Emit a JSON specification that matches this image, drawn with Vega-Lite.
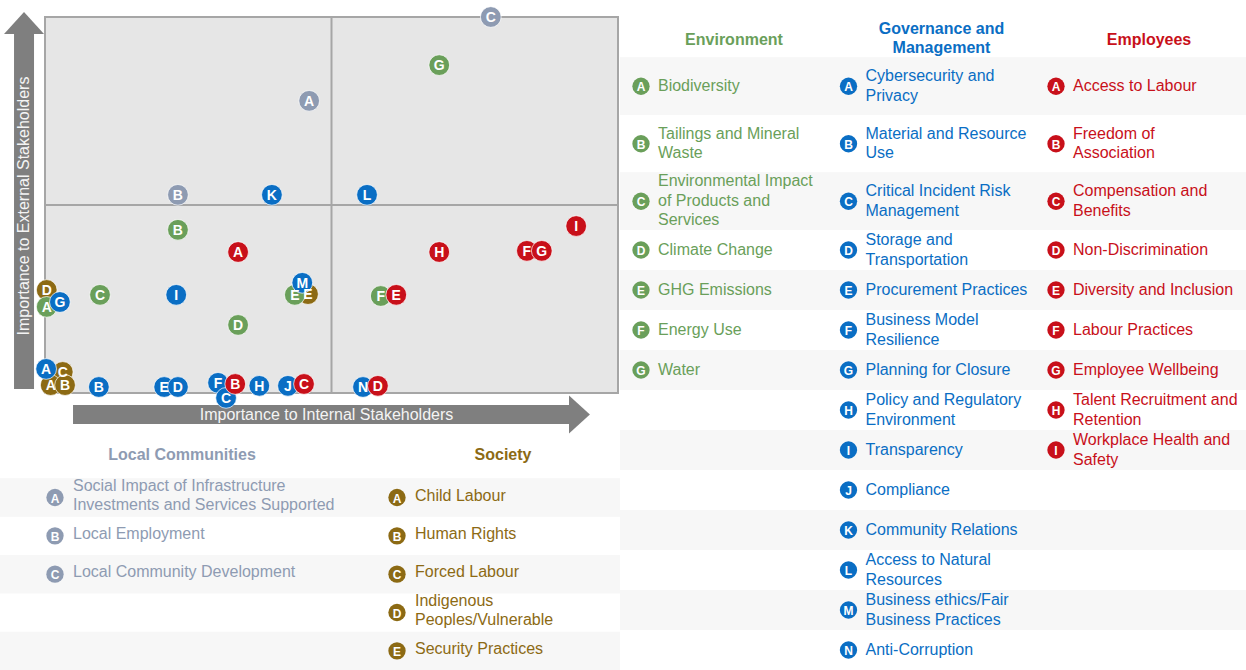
{
  "$schema": "https://vega.github.io/schema/vega-lite/v6.json",
  "padding": 0,
  "background": "white",
  "spacing": 0,
  "config": {
    "view": {"stroke": null},
    "font": "Liberation Sans",
    "concat": {"spacing": 0}
  },
  "datasets": {
    "points": [
      {"cat": "Society", "letter": "C", "x": 0.31, "y": 0.56},
      {"cat": "Society", "letter": "A", "x": 0.10, "y": 0.21},
      {"cat": "Society", "letter": "B", "x": 0.35, "y": 0.21},
      {"cat": "Society", "letter": "D", "x": 0.03, "y": 2.74},
      {"cat": "Society", "letter": "E", "x": 4.59, "y": 2.63},
      {"cat": "Local Communities", "letter": "A", "x": 4.61, "y": 7.77},
      {"cat": "Local Communities", "letter": "B", "x": 2.32, "y": 5.27},
      {"cat": "Local Communities", "letter": "C", "x": 7.78, "y": 10.0},
      {"cat": "Environment", "letter": "A", "x": 0.03, "y": 2.29},
      {"cat": "Environment", "letter": "B", "x": 2.32, "y": 4.34},
      {"cat": "Environment", "letter": "C", "x": 0.96, "y": 2.61},
      {"cat": "Environment", "letter": "D", "x": 3.37, "y": 1.81},
      {"cat": "Environment", "letter": "E", "x": 4.36, "y": 2.61},
      {"cat": "Environment", "letter": "F", "x": 5.86, "y": 2.58},
      {"cat": "Environment", "letter": "G", "x": 6.88, "y": 8.72},
      {"cat": "Governance and Management", "letter": "A", "x": 0.02, "y": 0.64},
      {"cat": "Governance and Management", "letter": "B", "x": 0.94, "y": 0.16},
      {"cat": "Governance and Management", "letter": "E", "x": 2.08, "y": 0.16},
      {"cat": "Governance and Management", "letter": "D", "x": 2.32, "y": 0.16},
      {"cat": "Governance and Management", "letter": "F", "x": 3.02, "y": 0.27},
      {"cat": "Governance and Management", "letter": "C", "x": 3.16, "y": -0.13},
      {"cat": "Governance and Management", "letter": "G", "x": 0.26, "y": 2.42},
      {"cat": "Governance and Management", "letter": "H", "x": 3.74, "y": 0.19},
      {"cat": "Governance and Management", "letter": "I", "x": 2.29, "y": 2.61},
      {"cat": "Governance and Management", "letter": "J", "x": 4.24, "y": 0.19},
      {"cat": "Governance and Management", "letter": "K", "x": 3.96, "y": 5.27},
      {"cat": "Governance and Management", "letter": "L", "x": 5.62, "y": 5.27},
      {"cat": "Governance and Management", "letter": "M", "x": 4.49, "y": 2.93},
      {"cat": "Governance and Management", "letter": "N", "x": 5.55, "y": 0.16},
      {"cat": "Employees", "letter": "A", "x": 3.37, "y": 3.75},
      {"cat": "Employees", "letter": "B", "x": 3.32, "y": 0.24},
      {"cat": "Employees", "letter": "C", "x": 4.52, "y": 0.24},
      {"cat": "Employees", "letter": "D", "x": 5.81, "y": 0.19},
      {"cat": "Employees", "letter": "E", "x": 6.13, "y": 2.61},
      {"cat": "Employees", "letter": "F", "x": 8.41, "y": 3.78},
      {"cat": "Employees", "letter": "G", "x": 8.67, "y": 3.78},
      {"cat": "Employees", "letter": "H", "x": 6.88, "y": 3.75},
      {"cat": "Employees", "letter": "I", "x": 9.27, "y": 4.44}
    ],
    "items": [
      {"cat": "Environment", "letter": "A", "row": 1, "label": "Biodiversity"},
      {"cat": "Environment", "letter": "B", "row": 2, "label": "Tailings and Mineral\nWaste"},
      {"cat": "Environment", "letter": "C", "row": 3, "label": "Environmental Impact\nof Products and\nServices"},
      {"cat": "Environment", "letter": "D", "row": 4, "label": "Climate Change"},
      {"cat": "Environment", "letter": "E", "row": 5, "label": "GHG Emissions"},
      {"cat": "Environment", "letter": "F", "row": 6, "label": "Energy Use"},
      {"cat": "Environment", "letter": "G", "row": 7, "label": "Water"},
      {"cat": "Governance and Management", "letter": "A", "row": 1, "label": "Cybersecurity and\nPrivacy"},
      {"cat": "Governance and Management", "letter": "B", "row": 2, "label": "Material and Resource\nUse"},
      {"cat": "Governance and Management", "letter": "C", "row": 3, "label": "Critical Incident Risk\nManagement"},
      {"cat": "Governance and Management", "letter": "D", "row": 4, "label": "Storage and\nTransportation"},
      {"cat": "Governance and Management", "letter": "E", "row": 5, "label": "Procurement Practices"},
      {"cat": "Governance and Management", "letter": "F", "row": 6, "label": "Business Model\nResilience"},
      {"cat": "Governance and Management", "letter": "G", "row": 7, "label": "Planning for Closure"},
      {"cat": "Governance and Management", "letter": "H", "row": 8, "label": "Policy and Regulatory\nEnvironment"},
      {"cat": "Governance and Management", "letter": "I", "row": 9, "label": "Transparency"},
      {"cat": "Governance and Management", "letter": "J", "row": 10, "label": "Compliance"},
      {"cat": "Governance and Management", "letter": "K", "row": 11, "label": "Community Relations"},
      {"cat": "Governance and Management", "letter": "L", "row": 12, "label": "Access to Natural\nResources"},
      {"cat": "Governance and Management", "letter": "M", "row": 13, "label": "Business ethics/Fair\nBusiness Practices"},
      {"cat": "Governance and Management", "letter": "N", "row": 14, "label": "Anti-Corruption"},
      {"cat": "Employees", "letter": "A", "row": 1, "label": "Access to Labour"},
      {"cat": "Employees", "letter": "B", "row": 2, "label": "Freedom of\nAssociation"},
      {"cat": "Employees", "letter": "C", "row": 3, "label": "Compensation and\nBenefits"},
      {"cat": "Employees", "letter": "D", "row": 4, "label": "Non-Discrimination"},
      {"cat": "Employees", "letter": "E", "row": 5, "label": "Diversity and Inclusion"},
      {"cat": "Employees", "letter": "F", "row": 6, "label": "Labour Practices"},
      {"cat": "Employees", "letter": "G", "row": 7, "label": "Employee Wellbeing"},
      {"cat": "Employees", "letter": "H", "row": 8, "label": "Talent Recruitment and\nRetention"},
      {"cat": "Employees", "letter": "I", "row": 9, "label": "Workplace Health and\nSafety"},
      {"cat": "Local Communities", "letter": "A", "row": 1, "label": "Social Impact of Infrastructure\nInvestments and Services Supported"},
      {"cat": "Local Communities", "letter": "B", "row": 2, "label": "Local Employment"},
      {"cat": "Local Communities", "letter": "C", "row": 3, "label": "Local Community Development"},
      {"cat": "Society", "letter": "A", "row": 1, "label": "Child Labour"},
      {"cat": "Society", "letter": "B", "row": 2, "label": "Human Rights"},
      {"cat": "Society", "letter": "C", "row": 3, "label": "Forced Labour"},
      {"cat": "Society", "letter": "D", "row": 4, "label": "Indigenous\nPeoples/Vulnerable"},
      {"cat": "Society", "letter": "E", "row": 5, "label": "Security Practices"}
    ],
    "headers": [
      {"cat": "Environment", "label": "Environment", "row": 0},
      {"cat": "Governance and Management", "label": "Governance and\nManagement", "row": 0},
      {"cat": "Employees", "label": "Employees", "row": 0},
      {"cat": "Local Communities", "label": "Local Communities", "row": 0},
      {"cat": "Society", "label": "Society", "row": 0}
    ]
  },
  "hconcat": [
    {
      "spacing": 0,
      "vconcat": [
        {
          "width": 620,
          "height": 440,
          "data": {"name": "points"},
          "layer": [
            {
              "data": {"values": [{}]},
              "mark": {"type": "rect", "fill": "#e6e6e6", "stroke": "#a6a6a6", "strokeWidth": 2},
              "encoding": {
                "x": {"datum": 0, "type": "quantitative", "axis": null, "scale": {"domain": [-0.7853, 10.0349], "nice": false, "zero": false}},
                "x2": {"datum": 10},
                "y": {"datum": 0, "type": "quantitative", "axis": null, "scale": {"domain": [-1.25, 10.452], "nice": false, "zero": false}},
                "y2": {"datum": 10}
              }
            },
            {
              "data": {"values": [{}]},
              "mark": {"type": "rule", "stroke": "#a6a6a6", "strokeWidth": 2},
              "encoding": {
                "x": {"datum": 5, "type": "quantitative"},
                "y": {"datum": 0, "type": "quantitative"},
                "y2": {"datum": 10}
              }
            },
            {
              "data": {"values": [{}]},
              "mark": {"type": "rule", "stroke": "#a6a6a6", "strokeWidth": 2},
              "encoding": {
                "y": {"datum": 5, "type": "quantitative"},
                "x": {"datum": 0, "type": "quantitative"},
                "x2": {"datum": 10}
              }
            },
            {
              "data": {"values": [{}]},
              "mark": {"type": "rule", "stroke": "#7f7f7f", "strokeWidth": 19},
              "encoding": {
                "x": {"datum": 0.489, "type": "quantitative"},
                "x2": {"datum": 9.16},
                "y": {"datum": -0.572, "type": "quantitative"}
              }
            },
            {
              "data": {"values": [{}]},
              "mark": {"type": "point", "filled": true, "opacity": 1, "color": "#7f7f7f", "strokeWidth": 0, "shape": "M0,-1L1.1,0L0,1Z", "size": 1444},
              "encoding": {
                "x": {"datum": 9.145, "type": "quantitative"},
                "y": {"datum": -0.572, "type": "quantitative"}
              }
            },
            {
              "data": {"values": [{}]},
              "mark": {"type": "rule", "stroke": "#7f7f7f", "strokeWidth": 20},
              "encoding": {
                "x": {"datum": -0.366, "type": "quantitative"},
                "y": {"datum": 0.106, "type": "quantitative"},
                "y2": {"datum": 9.56}
              }
            },
            {
              "data": {"values": [{}]},
              "mark": {"type": "point", "filled": true, "opacity": 1, "color": "#7f7f7f", "strokeWidth": 0, "shape": "M-1,0L0,-1.1L1,0Z", "size": 1600},
              "encoding": {
                "x": {"datum": -0.366, "type": "quantitative"},
                "y": {"datum": 9.548, "type": "quantitative"}
              }
            },
            {
              "data": {"values": [{"t": "Importance to Internal Stakeholders"}]},
              "mark": {"type": "text", "color": "#f4f4f4", "fontSize": 16, "align": "center", "baseline": "middle"},
              "encoding": {
                "x": {"datum": 4.913, "type": "quantitative"},
                "y": {"datum": -0.572, "type": "quantitative"},
                "text": {"field": "t"}
              }
            },
            {
              "data": {"values": [{"t": "Importance to External Stakeholders"}]},
              "mark": {"type": "text", "color": "#f4f4f4", "fontSize": 16, "align": "center", "baseline": "middle", "angle": 270},
              "encoding": {
                "x": {"datum": -0.366, "type": "quantitative"},
                "y": {"datum": 4.973, "type": "quantitative"},
                "text": {"field": "t"}
              }
            },
            {
              "mark": {"type": "point", "filled": true, "shape": "circle", "size": 430, "opacity": 1, "stroke": "white", "strokeWidth": 1, "strokeOpacity": 0.7},
              "encoding": {
                "x": {"field": "x", "type": "quantitative"},
                "y": {"field": "y", "type": "quantitative"},
                "color": {"field": "cat", "type": "nominal", "legend": null,
                  "scale": {"domain": ["Local Communities", "Environment", "Governance and Management", "Employees", "Society"],
                            "range": ["#8e9bb2", "#6a9f5a", "#0a6ec4", "#c8101a", "#8c6a14"]}}
              }
            },
            {
              "mark": {"type": "text", "color": "white", "fontSize": 14, "fontWeight": "bold", "align": "center", "baseline": "middle", "dy": 1},
              "encoding": {
                "x": {"field": "x", "type": "quantitative"},
                "y": {"field": "y", "type": "quantitative"},
                "text": {"field": "letter"}
              }
            }
          ]
        },
        {
          "width": 620,
          "height": 230,
          "data": {"name": "items"},
          "transform": [
            {"filter": {"field": "cat", "oneOf": ["Local Communities", "Society"]}},
            {"calculate": "length(split(datum.label, '\\n'))", "as": "nlines"}
          ],
          "layer": [
            {
              "transform": [{"filter": "datum.row % 2 == 1"}],
              "mark": {"type": "rect", "color": "#f7f7f7"},
              "encoding": {
                "y": {"field": "row", "type": "ordinal", "axis": null, "scale": {"domain": [0, 1, 2, 3, 4, 5], "paddingInner": 0, "paddingOuter": 0}}
              }
            },
            {
              "mark": {"type": "point", "filled": true, "shape": "circle", "size": 300, "opacity": 1},
              "encoding": {
                "x": {"field": "cat", "type": "nominal", "axis": null, "scale": {"type": "point", "domain": ["Local Communities", "Society"], "padding": 0.4064, "align": 0.1978}},
                "y": {"field": "row", "type": "ordinal"},
                "color": {"field": "cat", "type": "nominal", "legend": null,
                  "scale": {"domain": ["Local Communities", "Environment", "Governance and Management", "Employees", "Society"],
                            "range": ["#8e9bb2", "#6a9f5a", "#0a6ec4", "#c8101a", "#8c6a14"]}}
              }
            },
            {
              "mark": {"type": "text", "color": "white", "fontSize": 12, "fontWeight": "bold", "align": "center", "baseline": "middle", "dy": 1},
              "encoding": {
                "x": {"field": "cat", "type": "nominal"},
                "y": {"field": "row", "type": "ordinal"},
                "text": {"field": "letter"}
              }
            },
            {
              "transform": [{"filter": "datum.nlines == 1"}],
              "mark": {"type": "text", "fontSize": 16, "align": "left", "baseline": "middle", "dx": 18, "dy": -2, "lineBreak": "\n", "lineHeight": 19.5},
              "encoding": {
                "x": {"field": "cat", "type": "nominal"},
                "y": {"field": "row", "type": "ordinal"},
                "text": {"field": "label"},
                "color": {"field": "cat", "type": "nominal", "legend": null}
              }
            },
            {
              "transform": [{"filter": "datum.nlines == 2"}],
              "mark": {"type": "text", "fontSize": 16, "align": "left", "baseline": "middle", "dx": 18, "dy": -12, "lineBreak": "\n", "lineHeight": 19.5},
              "encoding": {
                "x": {"field": "cat", "type": "nominal"},
                "y": {"field": "row", "type": "ordinal"},
                "text": {"field": "label"},
                "color": {"field": "cat", "type": "nominal", "legend": null}
              }
            },
            {
              "data": {"name": "headers"},
              "transform": [{"filter": {"field": "cat", "equal": "Local Communities"}}],
              "mark": {"type": "text", "fontSize": 16, "fontWeight": "bold", "align": "center", "baseline": "middle", "dx": 127, "dy": -4},
              "encoding": {
                "x": {"field": "cat", "type": "nominal"},
                "y": {"field": "row", "type": "ordinal"},
                "text": {"field": "label"},
                "color": {"field": "cat", "type": "nominal", "legend": null}
              }
            },
            {
              "data": {"name": "headers"},
              "transform": [{"filter": {"field": "cat", "equal": "Society"}}],
              "mark": {"type": "text", "fontSize": 16, "fontWeight": "bold", "align": "center", "baseline": "middle", "dx": 106, "dy": -4},
              "encoding": {
                "x": {"field": "cat", "type": "nominal"},
                "y": {"field": "row", "type": "ordinal"},
                "text": {"field": "label"},
                "color": {"field": "cat", "type": "nominal", "legend": null}
              }
            }
          ]
        }
      ]
    },
    {
      "spacing": 0,
      "vconcat": [
        {
          "width": 626,
          "height": 230,
          "data": {"name": "items"},
          "transform": [
            {"filter": {"field": "cat", "oneOf": ["Environment", "Governance and Management", "Employees"]}},
            {"filter": "datum.row <= 3"},
            {"calculate": "length(split(datum.label, '\\n'))", "as": "nlines"}
          ],
          "layer": [
            {
              "transform": [{"filter": "datum.row % 2 == 1"}],
              "mark": {"type": "rect", "color": "#f7f7f7"},
              "encoding": {
                "y": {"field": "row", "type": "ordinal", "axis": null, "scale": {"domain": [0, 1, 2, 3], "paddingInner": 0, "paddingOuter": 0}}
              }
            },
            {
              "mark": {"type": "point", "filled": true, "shape": "circle", "size": 300, "opacity": 1},
              "encoding": {
                "x": {"field": "cat", "type": "nominal", "axis": null, "scale": {"type": "point", "domain": ["Environment", "Governance and Management", "Employees"], "padding": 0.5084, "align": 0.0995}},
                "y": {"field": "row", "type": "ordinal"},
                "color": {"field": "cat", "type": "nominal", "legend": null,
                  "scale": {"domain": ["Local Communities", "Environment", "Governance and Management", "Employees", "Society"],
                            "range": ["#8e9bb2", "#6a9f5a", "#0a6ec4", "#c8101a", "#8c6a14"]}}
              }
            },
            {
              "mark": {"type": "text", "color": "white", "fontSize": 12, "fontWeight": "bold", "align": "center", "baseline": "middle", "dy": 1},
              "encoding": {
                "x": {"field": "cat", "type": "nominal"},
                "y": {"field": "row", "type": "ordinal"},
                "text": {"field": "letter"}
              }
            },
            {
              "transform": [{"filter": "datum.nlines == 1"}],
              "mark": {"type": "text", "fontSize": 16, "align": "left", "baseline": "middle", "dx": 17, "dy": 0, "lineBreak": "\n", "lineHeight": 19.5},
              "encoding": {
                "x": {"field": "cat", "type": "nominal"},
                "y": {"field": "row", "type": "ordinal"},
                "text": {"field": "label"},
                "color": {"field": "cat", "type": "nominal", "legend": null}
              }
            },
            {
              "transform": [{"filter": "datum.nlines == 2"}],
              "mark": {"type": "text", "fontSize": 16, "align": "left", "baseline": "middle", "dx": 17, "dy": -10, "lineBreak": "\n", "lineHeight": 19.5},
              "encoding": {
                "x": {"field": "cat", "type": "nominal"},
                "y": {"field": "row", "type": "ordinal"},
                "text": {"field": "label"},
                "color": {"field": "cat", "type": "nominal", "legend": null}
              }
            },
            {
              "transform": [{"filter": "datum.nlines == 3"}],
              "mark": {"type": "text", "fontSize": 16, "align": "left", "baseline": "middle", "dx": 17, "dy": -20, "lineBreak": "\n", "lineHeight": 19.5},
              "encoding": {
                "x": {"field": "cat", "type": "nominal"},
                "y": {"field": "row", "type": "ordinal"},
                "text": {"field": "label"},
                "color": {"field": "cat", "type": "nominal", "legend": null}
              }
            },
            {
              "data": {"name": "headers"},
              "transform": [{"filter": {"field": "cat", "oneOf": ["Environment", "Employees"]}}],
              "mark": {"type": "text", "fontSize": 16, "fontWeight": "bold", "align": "center", "baseline": "middle", "dx": 93, "dy": 11},
              "encoding": {
                "x": {"field": "cat", "type": "nominal"},
                "y": {"field": "row", "type": "ordinal"},
                "text": {"field": "label"},
                "color": {"field": "cat", "type": "nominal", "legend": null}
              }
            },
            {
              "data": {"name": "headers"},
              "transform": [{"filter": {"field": "cat", "equal": "Governance and Management"}}],
              "mark": {"type": "text", "fontSize": 16, "fontWeight": "bold", "align": "center", "baseline": "middle", "dx": 93, "dy": 0, "lineBreak": "\n", "lineHeight": 19.5},
              "encoding": {
                "x": {"field": "cat", "type": "nominal"},
                "y": {"field": "row", "type": "ordinal"},
                "text": {"field": "label"},
                "color": {"field": "cat", "type": "nominal", "legend": null}
              }
            }
          ]
        },
        {
          "width": 626,
          "height": 440,
          "data": {"name": "items"},
          "transform": [
            {"filter": {"field": "cat", "oneOf": ["Environment", "Governance and Management", "Employees"]}},
            {"filter": "datum.row >= 4"},
            {"calculate": "length(split(datum.label, '\\n'))", "as": "nlines"}
          ],
          "layer": [
            {
              "transform": [{"filter": "datum.row % 2 == 1"}],
              "mark": {"type": "rect", "color": "#f7f7f7"},
              "encoding": {
                "y": {"field": "row", "type": "ordinal", "axis": null, "scale": {"domain": [4, 5, 6, 7, 8, 9, 10, 11, 12, 13, 14], "paddingInner": 0, "paddingOuter": 0}}
              }
            },
            {
              "mark": {"type": "point", "filled": true, "shape": "circle", "size": 300, "opacity": 1},
              "encoding": {
                "x": {"field": "cat", "type": "nominal", "axis": null, "scale": {"type": "point", "domain": ["Environment", "Governance and Management", "Employees"], "padding": 0.5084, "align": 0.0995}},
                "y": {"field": "row", "type": "ordinal"},
                "color": {"field": "cat", "type": "nominal", "legend": null,
                  "scale": {"domain": ["Local Communities", "Environment", "Governance and Management", "Employees", "Society"],
                            "range": ["#8e9bb2", "#6a9f5a", "#0a6ec4", "#c8101a", "#8c6a14"]}}
              }
            },
            {
              "mark": {"type": "text", "color": "white", "fontSize": 12, "fontWeight": "bold", "align": "center", "baseline": "middle", "dy": 1},
              "encoding": {
                "x": {"field": "cat", "type": "nominal"},
                "y": {"field": "row", "type": "ordinal"},
                "text": {"field": "letter"}
              }
            },
            {
              "transform": [{"filter": "datum.nlines == 1"}],
              "mark": {"type": "text", "fontSize": 16, "align": "left", "baseline": "middle", "dx": 17, "dy": 0, "lineBreak": "\n", "lineHeight": 19.5},
              "encoding": {
                "x": {"field": "cat", "type": "nominal"},
                "y": {"field": "row", "type": "ordinal"},
                "text": {"field": "label"},
                "color": {"field": "cat", "type": "nominal", "legend": null}
              }
            },
            {
              "transform": [{"filter": "datum.nlines == 2"}],
              "mark": {"type": "text", "fontSize": 16, "align": "left", "baseline": "middle", "dx": 17, "dy": -10, "lineBreak": "\n", "lineHeight": 19.5},
              "encoding": {
                "x": {"field": "cat", "type": "nominal"},
                "y": {"field": "row", "type": "ordinal"},
                "text": {"field": "label"},
                "color": {"field": "cat", "type": "nominal", "legend": null}
              }
            }
          ]
        }
      ]
    }
  ]
}
